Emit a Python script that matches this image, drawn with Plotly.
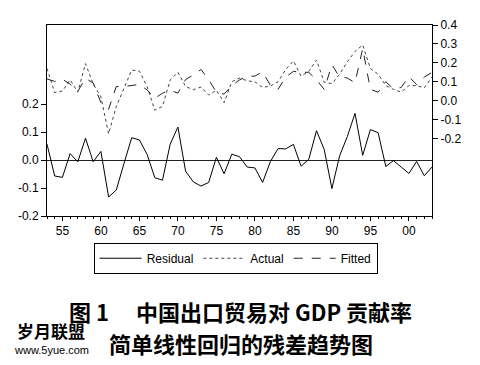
import plotly.graph_objects as go

years = list(range(1953, 2004))

residual = [0.057, -0.057, -0.062, 0.023, -0.006, 0.078, -0.006, 0.031, -0.132, -0.107,
            -0.012, 0.080, 0.072, 0.020, -0.063, -0.072, 0.057, 0.118, -0.040, -0.078,
            -0.093, -0.080, 0.010, -0.049, 0.021, 0.012, -0.025, -0.028, -0.080, -0.006,
            0.041, 0.040, 0.056, -0.022, 0.003, 0.105, 0.038, -0.102, 0.015, 0.084,
            0.167, 0.017, 0.109, 0.098, -0.023, -0.002, -0.025, -0.048, -0.005, -0.056,
            -0.025]

actual = [0.170, 0.043, 0.051, 0.110, 0.045, 0.196, 0.088, 0.020, -0.175, -0.030,
          0.065, 0.162, 0.156, 0.075, -0.050, -0.030, 0.110, 0.150, 0.075, 0.058,
          0.072, 0.030, 0.055, -0.010, 0.100, 0.120, 0.105, 0.100, 0.070, 0.078,
          0.100, 0.165, 0.210, 0.130, 0.155, 0.215, 0.098, 0.090, 0.140, 0.205,
          0.260, 0.295, 0.170, 0.140, 0.080, 0.060, 0.045, 0.080, 0.080, 0.068,
          0.125]

fitted = [0.115, 0.102, 0.113, 0.088, 0.050, 0.118, 0.094, -0.010, -0.045, 0.075,
          0.075, 0.082, 0.086, 0.057, 0.013, 0.040, 0.055, 0.040, 0.112, 0.136,
          0.165, 0.111, 0.045, 0.035, 0.080, 0.110, 0.130, 0.130, 0.152, 0.082,
          0.060, 0.125, 0.155, 0.150, 0.150, 0.110, 0.060, 0.190, 0.125, 0.120,
          0.095, 0.275, 0.060, 0.045, 0.100, 0.062, 0.070, 0.128, 0.085, 0.125,
          0.150]

x_tick_vals = [1955, 1960, 1965, 1970, 1975, 1980, 1985, 1990, 1995, 2000]
x_tick_text = ["55", "60", "65", "70", "75", "80", "85", "90", "95", "00"]
left_ticks = [-0.2, -0.1, 0.0, 0.1, 0.2]
left_tick_text = ["-0.2", "-0.1", "0.0", "0.1", "0.2"]
right_ticks = [-0.2, -0.1, 0.0, 0.1, 0.2, 0.3, 0.4]
right_tick_text = ["-0.2", "-0.1", "0.0", "0.1", "0.2", "0.3", "0.4"]

title1 = "图 1　 中国出口贸易对 GDP 贡献率"
title2 = "简单线性回归的残差趋势图"
mark1 = "岁月联盟"
mark2 = "www.5yue.com"

fig = go.Figure()

fig.add_trace(go.Scatter(x=years, y=residual, name="Residual", mode="lines",
                         line=dict(color="black", width=1), yaxis="y"))
fig.add_trace(go.Scatter(x=years, y=actual, name="Actual", mode="lines",
                         line=dict(color="#444444", width=1, dash="dot"), yaxis="y2"))
fig.add_trace(go.Scatter(x=years, y=fitted, name="Fitted", mode="lines",
                         line=dict(color="#222222", width=1, dash="dash"), yaxis="y2"))

tickfont = dict(family="Liberation Sans, Arial", size=12, color="black")

# page body has an 8px margin, so the figure is offset by 8px to land where the reference is
fig.update_layout(
    width=472, height=357,
    margin=dict(l=38, r=48, t=10, b=149),
    paper_bgcolor="white", plot_bgcolor="white",
    showlegend=True,
    legend=dict(orientation="h", x=0.49, xanchor="center", y=-0.14, yanchor="top",
                bordercolor="black", borderwidth=1, bgcolor="white",
                font=dict(family="Liberation Sans, Arial", size=12, color="black"),
                itemwidth=42, tracegroupgap=0),
    xaxis=dict(range=[1953, 2003], tickvals=x_tick_vals, ticktext=x_tick_text,
               ticks="outside", ticklen=4, tickcolor="black", showgrid=False,
               zeroline=False, showline=True, linecolor="black", linewidth=1,
               mirror=True, tickfont=tickfont,
               minor=dict(dtick=1, tick0=1953, ticks="outside", ticklen=2, tickcolor="black")),
    yaxis=dict(range=[-0.2, 0.483], tickvals=left_ticks, ticktext=left_tick_text,
               ticks="outside", ticklen=5, tickcolor="black", showgrid=False,
               zeroline=True, zerolinecolor="#222222", zerolinewidth=1,
               showline=True, linecolor="black", linewidth=1, tickfont=tickfont),
    yaxis2=dict(range=[-0.609, 0.4], tickvals=right_ticks, ticktext=right_tick_text,
                overlaying="y", side="right", ticks="outside", ticklen=5, tickcolor="black",
                showgrid=False, zeroline=False, showline=True, linecolor="black",
                linewidth=1, tickfont=tickfont),
)

fig.add_annotation(text=title1, xref="paper", yref="paper", x=0.503, y=-0.495,
                   xanchor="center", yanchor="middle", showarrow=False,
                   font=dict(family="Noto Sans CJK SC", size=22, color="black", weight="bold"))
fig.add_annotation(text=title2, xref="paper", yref="paper", x=0.503, y=-0.667,
                   xanchor="center", yanchor="middle", showarrow=False,
                   font=dict(family="Noto Sans CJK SC", size=22, color="black", weight="bold"))
fig.add_annotation(text=mark1, xref="paper", yref="paper", x=(50 - 46) / 386, y=(216 - 335) / 198,
                   xanchor="center", yanchor="middle", showarrow=False,
                   font=dict(family="Noto Sans CJK SC", size=17, color="black", weight="bold"))
fig.add_annotation(text=mark2, xref="paper", yref="paper", x=(51 - 46) / 386, y=(216 - 355) / 198,
                   xanchor="center", yanchor="middle", showarrow=False,
                   font=dict(family="Liberation Sans, Arial", size=11, color="black"))

fig.write_html("out.html")
